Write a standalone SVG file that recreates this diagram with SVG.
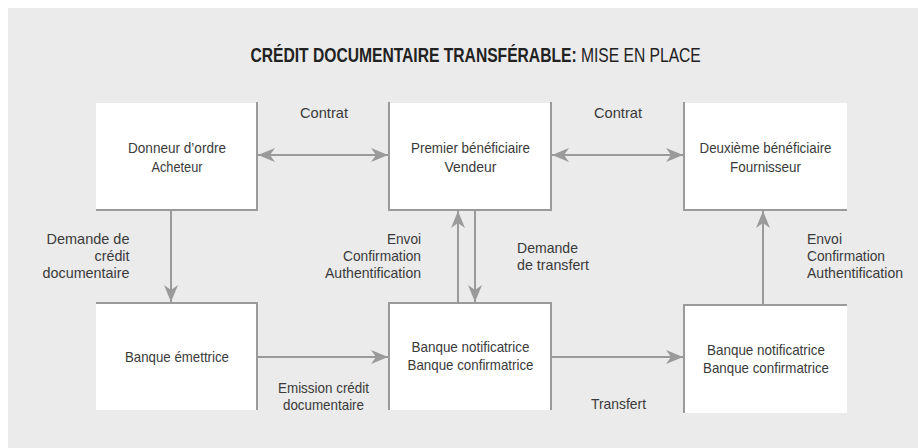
<svg xmlns="http://www.w3.org/2000/svg" width="918" height="448" viewBox="0 0 918 448">
<defs>
<style>
.bg{fill:#ebebeb}
.box{fill:#ffffff}
.edge{stroke:#9a9a9a;stroke-width:2;fill:none}
.conn{stroke:#9a9a9a;stroke-width:2;fill:none}
.t{font-family:"Liberation Sans",Arial,sans-serif;font-size:15px;fill:#3a3a3a}
.c{text-anchor:middle}
.r{text-anchor:end}
.title{font-family:"Liberation Sans",Arial,sans-serif;font-size:20px;fill:#222}
</style>
<marker id="ah" markerUnits="userSpaceOnUse" markerWidth="20" markerHeight="18" viewBox="-18 -9 19 18" refX="0" refY="0" orient="auto-start-reverse">
<path d="M0,0 L-17,-7 L-12,0 L-17,7 Z" fill="#9a9a9a"/>
</marker>
</defs>
<rect class="bg" x="8" y="8" width="910" height="440"/>
<text class="title" transform="scale(0.782,1)" x="320.3" y="62"><tspan font-weight="bold">CRÉDIT DOCUMENTAIRE TRANSFÉRABLE:</tspan> MISE EN PLACE</text>

<g id="donneur">
<rect class="box" x="96" y="103" width="161" height="107"/>
<path class="edge" d="M257,102 V211 M96,210 H258"/>
<text class="t c" x="177" y="153" textLength="98" lengthAdjust="spacingAndGlyphs">Donneur d’ordre</text>
<text class="t c" x="177" y="171.5" textLength="51" lengthAdjust="spacingAndGlyphs">Acheteur</text>
</g>
<g id="premier">
<rect class="box" x="389" y="103" width="162" height="107"/>
<path class="edge" d="M389,102 V211 M551,102 V211 M388,210 H552"/>
<text class="t c" x="470.5" y="153" textLength="119" lengthAdjust="spacingAndGlyphs">Premier bénéficiaire</text>
<text class="t c" x="470.5" y="171.5" textLength="52" lengthAdjust="spacingAndGlyphs">Vendeur</text>
</g>
<g id="deuxieme">
<rect class="box" x="684" y="103" width="163" height="107"/>
<path class="edge" d="M684,102 V211 M683,210 H847"/>
<text class="t c" x="765.5" y="153" textLength="132" lengthAdjust="spacingAndGlyphs">Deuxième bénéficiaire</text>
<text class="t c" x="765.5" y="171.5" textLength="71" lengthAdjust="spacingAndGlyphs">Fournisseur</text>
</g>
<g id="emettrice">
<rect class="box" x="96" y="303" width="161" height="107"/>
<path class="edge" d="M96,303 H258 M257,302 V410"/>
<text class="t c" x="177" y="361.5" textLength="104" lengthAdjust="spacingAndGlyphs">Banque émettrice</text>
</g>
<g id="notificatrice1">
<rect class="box" x="389" y="303" width="162" height="107"/>
<path class="edge" d="M388,303 H552 M389,303 V410 M551,303 V410"/>
<text class="t c" x="470.5" y="352" textLength="118" lengthAdjust="spacingAndGlyphs">Banque notificatrice</text>
<text class="t c" x="470.5" y="369.5" textLength="126" lengthAdjust="spacingAndGlyphs">Banque confirmatrice</text>
</g>
<g id="notificatrice2">
<rect class="box" x="684" y="305" width="163" height="108"/>
<path class="edge" d="M683,305 H847 M684,305 V413"/>
<text class="t c" x="766" y="355" textLength="118" lengthAdjust="spacingAndGlyphs">Banque notificatrice</text>
<text class="t c" x="766" y="372.5" textLength="126" lengthAdjust="spacingAndGlyphs">Banque confirmatrice</text>
</g>

<g id="connectors">
<line class="conn" x1="258" y1="155" x2="388" y2="155" marker-start="url(#ah)" marker-end="url(#ah)"/>
<line class="conn" x1="552" y1="155" x2="683" y2="155" marker-start="url(#ah)" marker-end="url(#ah)"/>
<line class="conn" x1="171" y1="211" x2="171" y2="302" marker-end="url(#ah)"/>
<line class="conn" x1="458" y1="302" x2="458" y2="211" marker-end="url(#ah)"/>
<line class="conn" x1="475" y1="211" x2="475" y2="302" marker-end="url(#ah)"/>
<line class="conn" x1="763" y1="304" x2="763" y2="211" marker-end="url(#ah)"/>
<line class="conn" x1="258" y1="357" x2="388" y2="357" marker-end="url(#ah)"/>
<line class="conn" x1="552" y1="357" x2="683" y2="357" marker-end="url(#ah)"/>
</g>

<g id="labels">
<text class="t c" x="324" y="118" textLength="48" lengthAdjust="spacingAndGlyphs">Contrat</text>
<text class="t c" x="618" y="118" textLength="48" lengthAdjust="spacingAndGlyphs">Contrat</text>
<text class="t r" x="129.5" y="244" textLength="83" lengthAdjust="spacingAndGlyphs">Demande de</text>
<text class="t r" x="129.5" y="261" textLength="35" lengthAdjust="spacingAndGlyphs">crédit</text>
<text class="t r" x="129.5" y="278" textLength="87" lengthAdjust="spacingAndGlyphs">documentaire</text>
<text class="t r" x="421" y="244" textLength="34" lengthAdjust="spacingAndGlyphs">Envoi</text>
<text class="t r" x="421" y="261" textLength="78" lengthAdjust="spacingAndGlyphs">Confirmation</text>
<text class="t r" x="421" y="278" textLength="96" lengthAdjust="spacingAndGlyphs">Authentification</text>
<text class="t" x="517" y="252.5" textLength="61" lengthAdjust="spacingAndGlyphs">Demande</text>
<text class="t" x="517" y="270" textLength="72" lengthAdjust="spacingAndGlyphs">de transfert</text>
<text class="t" x="807" y="244" textLength="35" lengthAdjust="spacingAndGlyphs">Envoi</text>
<text class="t" x="807" y="261" textLength="78" lengthAdjust="spacingAndGlyphs">Confirmation</text>
<text class="t" x="807" y="278" textLength="96" lengthAdjust="spacingAndGlyphs">Authentification</text>
<text class="t c" x="323.5" y="393" textLength="91" lengthAdjust="spacingAndGlyphs">Emission crédit</text>
<text class="t c" x="323.5" y="410" textLength="81" lengthAdjust="spacingAndGlyphs">documentaire</text>
<text class="t c" x="618.5" y="409" textLength="55" lengthAdjust="spacingAndGlyphs">Transfert</text>
</g>
</svg>
